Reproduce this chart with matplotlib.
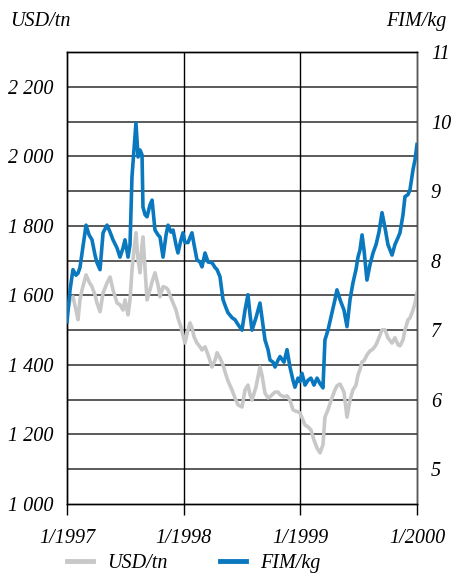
import matplotlib
matplotlib.use("Agg")
import matplotlib.pyplot as plt
from matplotlib.lines import Line2D

plt.rcParams['font.family'] = ['Liberation Serif', 'DejaVu Serif']
plt.rcParams['font.style'] = 'italic'

# decimal years of the readings
years = [
    1997.000, 1997.026, 1997.051, 1997.077, 1997.094, 1997.111, 1997.129, 1997.163, 1997.189, 1997.214,
    1997.240, 1997.257, 1997.283, 1997.309, 1997.343, 1997.369, 1997.394, 1997.429, 1997.454, 1997.480,
    1997.497, 1997.523, 1997.540, 1997.557, 1997.574, 1997.591, 1997.609, 1997.626, 1997.643, 1997.651,
    1997.669, 1997.686, 1997.711, 1997.729, 1997.754, 1997.780, 1997.797, 1997.823, 1997.849, 1997.866,
    1997.891, 1997.909, 1997.934, 1997.951, 1997.977, 1997.994, 1998.011, 1998.037, 1998.054, 1998.071,
    1998.089, 1998.114, 1998.140, 1998.157, 1998.183, 1998.209, 1998.243, 1998.269, 1998.286, 1998.311,
    1998.337, 1998.363, 1998.380, 1998.414, 1998.440, 1998.466, 1998.500, 1998.526, 1998.551, 1998.569,
    1998.586, 1998.620, 1998.654, 1998.671, 1998.697, 1998.723, 1998.740, 1998.766, 1998.783, 1998.809,
    1998.826, 1998.860, 1998.886, 1998.911, 1998.937, 1998.954, 1998.980, 1998.997, 1999.014, 1999.040,
    1999.066, 1999.091, 1999.117, 1999.143, 1999.169, 1999.194, 1999.211, 1999.237, 1999.271, 1999.297,
    1999.314, 1999.340, 1999.374, 1999.400, 1999.426, 1999.451, 1999.477, 1999.494, 1999.511, 1999.529,
    1999.546, 1999.571, 1999.597, 1999.623, 1999.649, 1999.674, 1999.700, 1999.726, 1999.751, 1999.786,
    1999.811, 1999.837, 1999.854, 1999.880, 1999.897, 1999.923, 1999.940, 1999.966, 1999.983, 2000.000,
]

usd_tn = [
    1550, 1587, 1596, 1558, 1530, 1587, 1616, 1659, 1639, 1625,
    1601, 1578, 1553, 1607, 1636, 1653, 1616, 1578, 1573, 1558,
    1587, 1544, 1587, 1673, 1731, 1780, 1702, 1665, 1745, 1768,
    1673, 1587, 1616, 1639, 1665, 1630, 1596, 1625, 1622, 1616,
    1593, 1578, 1558, 1535, 1509, 1486, 1463, 1501, 1521, 1507,
    1481, 1463, 1452, 1443, 1452, 1429, 1394, 1414, 1435, 1420,
    1400, 1371, 1354, 1328, 1305, 1285, 1279, 1328, 1342, 1314,
    1299, 1337, 1394, 1371, 1319, 1305, 1308, 1317, 1322, 1322,
    1314, 1308, 1311, 1299, 1271, 1268, 1265, 1262, 1248, 1227,
    1222, 1213, 1184, 1161, 1147, 1170, 1250, 1271, 1305, 1328,
    1340, 1345, 1322, 1250, 1299, 1328, 1342, 1371, 1386, 1409,
    1412, 1429, 1440, 1446, 1458, 1478, 1501, 1501, 1478, 1463,
    1478, 1458, 1455, 1472, 1501, 1530, 1535, 1558, 1578, 1607,
]

fim_kg = [
    7.12, 7.58, 7.87, 7.79, 7.82, 7.90, 8.11, 8.51, 8.37, 8.30,
    8.08, 7.97, 7.87, 8.40, 8.51, 8.41, 8.30, 8.18, 8.05, 8.18,
    8.30, 8.05, 8.23, 9.21, 9.59, 9.98, 9.49, 9.59, 9.52, 8.77,
    8.66, 8.63, 8.80, 8.87, 8.44, 8.37, 8.34, 8.05, 8.37, 8.51,
    8.41, 8.44, 8.23, 8.11, 8.30, 8.40, 8.26, 8.26, 8.33, 8.40,
    8.23, 8.01, 7.98, 7.91, 8.11, 7.98, 7.97, 7.90, 7.87, 7.77,
    7.44, 7.32, 7.25, 7.18, 7.15, 7.08, 7.00, 7.29, 7.51, 7.22,
    7.00, 7.18, 7.39, 7.18, 6.86, 6.72, 6.57, 6.54, 6.47, 6.57,
    6.62, 6.54, 6.72, 6.47, 6.28, 6.18, 6.31, 6.26, 6.38, 6.21,
    6.28, 6.31, 6.21, 6.31, 6.23, 6.17, 6.86, 7.00, 7.25, 7.44,
    7.58, 7.44, 7.29, 7.05, 7.44, 7.68, 7.87, 8.05, 8.15, 8.37,
    8.15, 7.72, 7.94, 8.11, 8.23, 8.41, 8.69, 8.47, 8.23, 8.08,
    8.23, 8.33, 8.40, 8.66, 8.92, 8.95, 9.02, 9.31, 9.45, 9.67,
]

year_ticks = [1997, 1998, 1999, 2000]
year_labels = ["1/1997", "1/1998", "1/1999", "1/2000"]
usd_ticks = [1000, 1200, 1400, 1600, 1800, 2000, 2200]
usd_labels = ["1 000", "1 200", "1 400", "1 600", "1 800", "2 000", "2 200"]
fim_ticks = [5, 6, 7, 8, 9, 10, 11]

gray = "#c8c8c8"
blue = "#0a78bf"
fs = 14.5

fig = plt.figure(figsize=(4.51, 5.76), dpi=100)
ax = fig.add_axes([0.1486, 0.125, 0.776, 0.7847])
ax2 = ax.twinx()

# grid
for v in range(1100, 2300, 100):
    ax.axhline(v, color="#5a5a5a", lw=1.4, zorder=1)
for yr in year_ticks[1:-1]:
    ax.axvline(yr, color="black", lw=1.0, zorder=1)

ax.plot(years, usd_tn, color=gray, lw=2.6, zorder=3)
ax2.plot(years, fim_kg, color=blue, lw=2.6, zorder=3)

ax.set_xlim(1997, 2000)
ax.set_ylim(1000, 2300)
ax2.set_ylim(4.5, 11)

ax.set_xticks(year_ticks)
ax.set_xticklabels(year_labels, fontsize=fs)
ax.tick_params(axis="x", direction="out", length=8, width=1, pad=10)
ax.set_yticks(usd_ticks)
ax.set_yticklabels(usd_labels, fontsize=fs)
ax.tick_params(axis="y", length=0, pad=10)
ax2.set_yticks(fim_ticks)
ax2.set_yticklabels([str(v) for v in fim_ticks], fontsize=fs)
ax2.tick_params(axis="y", length=0, pad=10)

for a in (ax, ax2):
    for s in a.spines.values():
        s.set_color("black")
        s.set_linewidth(1.0)
ax2.spines["right"].set_color("#5a5a5a")

fig.text(0.022, 0.963, "USD/tn", fontsize=fs, ha="left", va="center")
fig.text(0.99, 0.963, "FIM/kg", fontsize=fs, ha="right", va="center")

handles = [Line2D([], [], color=gray, lw=3.5), Line2D([], [], color=blue, lw=3.5)]
fig.legend(handles, ["USD/tn", "FIM/kg"], loc="center", bbox_to_anchor=(0.43, 0.022),
           ncol=2, frameon=False, fontsize=fs, handlelength=1.3, columnspacing=2.6,
           handletextpad=0.7, borderpad=0.1)

fig.savefig("out.png", dpi=100)
